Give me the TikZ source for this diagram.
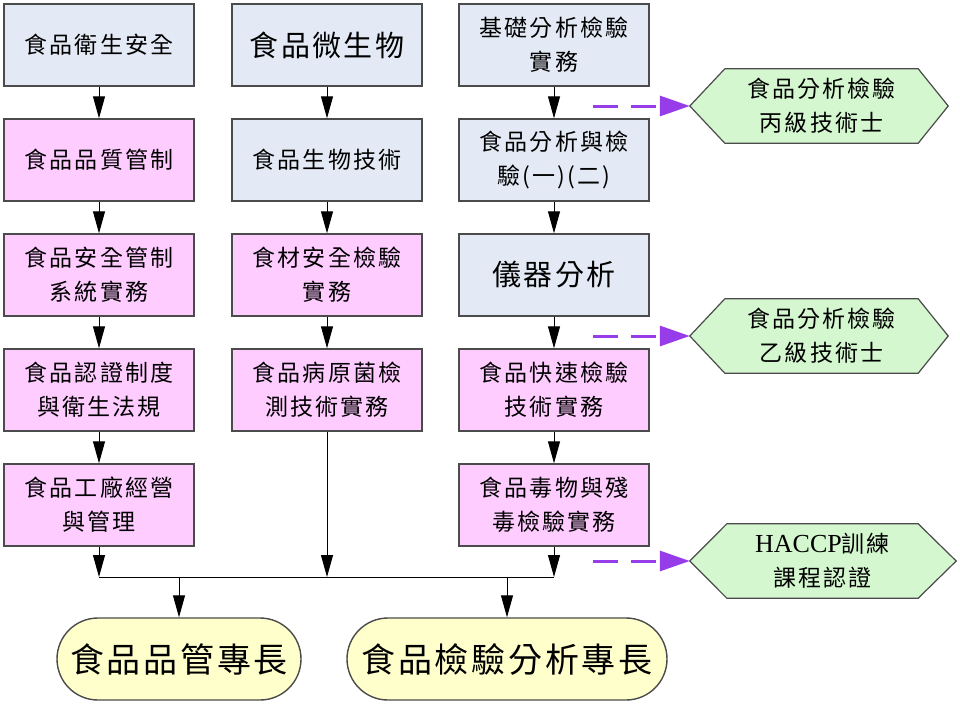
\documentclass[tikz,border=0pt]{standalone}
\usepackage{fontspec}
\usetikzlibrary{arrows.meta,backgrounds,calc}
\newfontfamily\cjk[LetterSpace=9]{Noto Sans CJK TC}
\newfontfamily\cjkbig[LetterSpace=8]{Noto Sans CJK TC}
\newfontfamily\lat{Liberation Serif}
\definecolor{bluefill}{RGB}{228,234,245}
\definecolor{pinkfill}{RGB}{255,204,255}
\definecolor{greenfill}{RGB}{212,247,208}
\definecolor{yellowfill}{RGB}{255,255,204}
\definecolor{edgegray}{RGB}{75,75,75}
\definecolor{dashpurple}{RGB}{150,60,232}
\tikzset{
  box/.style={draw=edgegray, line width=1.4pt, minimum width=190pt, minimum height=82pt,
    inner sep=0pt, align=center, font=\cjk\fontsize{23}{34}\selectfont},
  bluebox/.style={box, fill=bluefill},
  pinkbox/.style={box, fill=pinkfill},
  bigtext/.style={font=\cjkbig\fontsize{29}{34}\selectfont},
  oval/.style={draw=edgegray, line width=1.4pt, fill=yellowfill, rounded corners=41pt,
    minimum width=244pt, minimum height=82pt, inner sep=0pt,
    font=\cjkbig\fontsize{34}{40}\selectfont},
  hexnode/.style={minimum width=193pt, minimum height=74pt, inner sep=0pt, align=center,
    font=\cjk\fontsize{23}{34}\selectfont},
  hexshape/.style={draw=edgegray, line width=1.2pt, fill=greenfill},
  arr/.style={line width=1pt, -{Triangle[length=22pt,width=12pt]}},
  plain/.style={line width=1pt},
  dasharr/.style={draw=dashpurple, line width=3pt, dash pattern=on 25pt off 13pt,
    -{Triangle[length=30pt,width=20pt,fill=dashpurple]}}
}
\begin{document}
\begin{tikzpicture}[x=1pt,y=1pt]
\useasboundingbox (0,0) rectangle (960,-720);
% column 1
\node[bluebox] (a1) at (99,-45) {食品衛生安全};
\node[pinkbox] (a2) at (99,-160) {食品品質管制};
\node[pinkbox] (a3) at (99,-275) {食品安全管制\\系統實務};
\node[pinkbox] (a4) at (99,-390) {食品認證制度\\與衛生法規};
\node[pinkbox] (a5) at (99,-505) {食品工廠經營\\與管理};
% column 2
\node[bluebox, bigtext] (b1) at (327,-45) {食品微生物};
\node[bluebox] (b2) at (327,-160) {食品生物技術};
\node[pinkbox] (b3) at (327,-275) {食材安全檢驗\\實務};
\node[pinkbox] (b4) at (327,-390) {食品病原菌檢\\測技術實務};
% column 3
\node[bluebox] (c1) at (554,-45) {基礎分析檢驗\\實務};
\node[bluebox] (c2) at (554,-160) {食品分析與檢\\驗(一)(二)};
\node[bluebox, bigtext] (c3) at (554,-275) {儀器分析};
\node[pinkbox] (c4) at (554,-390) {食品快速檢驗\\技術實務};
\node[pinkbox] (c5) at (554,-505) {食品毒物與殘\\毒檢驗實務};
% ovals
\node[oval] (o1) at (179,-659) {食品品管專長};
\node[oval, minimum width=320pt] (o2) at (507,-659) {食品檢驗分析專長};
% hexagons
\node[hexnode] (h1) at (821.5,-106) {食品分析檢驗\\丙級技術士};
\node[hexnode] (h2) at (821.5,-336) {食品分析檢驗\\乙級技術士};
\node[hexnode, minimum width=191pt] (h3) at (822.5,-561) {{\lat\addfontfeatures{LetterSpace=0}\fontsize{26}{34}\selectfont HACCP}訓練\\課程認證};
\begin{scope}[on background layer]
\foreach \h/\li/\ri in {h1/35/30,h2/35/30,h3/37/38}{
  \path[hexshape] (\h.north west) -- (\h.north east) -- ([xshift=\ri pt]\h.east)
    -- (\h.south east) -- (\h.south west) -- ([xshift=-\li pt]\h.west) -- cycle;
}
\end{scope}
% vertical arrows
\draw[arr] (a1) -- (a2);
\draw[arr] (a2) -- (a3);
\draw[arr] (a3) -- (a4);
\draw[arr] (a4) -- (a5);
\draw[arr] (b1) -- (b2);
\draw[arr] (b2) -- (b3);
\draw[arr] (b3) -- (b4);
\draw[arr] (c1) -- (c2);
\draw[arr] (c2) -- (c3);
\draw[arr] (c3) -- (c4);
\draw[arr] (c4) -- (c5);
% merge
\coordinate (jl) at (99,-577);
\coordinate (jr) at (554,-577);
\draw[arr] (a5.south) -- (a5.south |- jl);
\draw[arr] (b4.south) -- (b4.south |- jl);
\draw[arr] (c5.south) -- (c5.south |- jr);
\draw[plain] (jl) -- (jr);
\draw[arr] (o1.north |- jl) -- (o1.north);
\draw[arr] (o2.north |- jl) -- (o2.north);
% dashed arrows
\coordinate (d1) at (593,-106);
\coordinate (d2) at (593,-336);
\coordinate (d3) at (593,-561);
\draw[dasharr] (d1) -- ([xshift=-35pt]h1.west);
\draw[dasharr] (d2) -- ([xshift=-35pt]h2.west);
\draw[dasharr] (d3) -- ([xshift=-37pt]h3.west);
\end{tikzpicture}
\end{document}
